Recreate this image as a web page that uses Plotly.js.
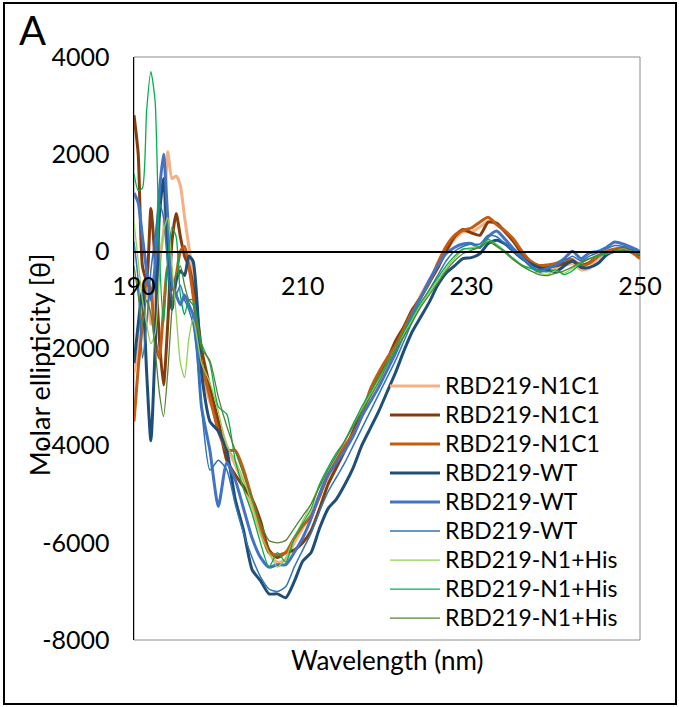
<!DOCTYPE html>
<html>
<head>
<meta charset="utf-8">
<script src="https://cdn.plot.ly/plotly-3.0.1.min.js"></script>
<style>
  html, body { margin: 0; padding: 0; background: #fff; }
  #wrap { position: relative; width: 679px; height: 707px; }
  #chart { position: absolute; left: 0; top: 0; width: 679px; height: 707px; }
  #frame { position: absolute; left: 3px; top: 2px; width: 670px; height: 699px; border: 2px solid #000; pointer-events: none; }
</style>
</head>
<body>
<div id="wrap"><div id="chart"></div><div id="frame"></div></div>
<script>
// Wavelengths (nm): 0.5 nm steps 190-197.5, then 1 nm steps 198-250
const wavelength = [190,190.5,191,191.5,192,192.5,193,193.5,194,194.5,195,195.5,196,196.5,197,197.5,
  198,199,200,201,202,203,204,205,206,207,208,209,210,211,212,213,214,215,216,217,218,219,220,
  221,222,223,224,225,226,227,228,229,230,231,232,233,234,235,236,237,238,239,240,241,242,243,244,245,246,247,248,249,250];

const seriesNames = ["RBD219-N1C1","RBD219-N1C1","RBD219-N1C1","RBD219-WT","RBD219-WT","RBD219-WT","RBD219-N1+His","RBD219-N1+His","RBD219-N1+His"];

const n1c1_a = [-2500,-2000,-1200,-800,-1500,-800,-200,400,2050,1500,1550,1350,700,100,-500,-1300,
  -2400,-3100,-3500,-4000,-4400,-4800,-5300,-5800,-6200,-6400,-6350,-6000,-5700,-5400,-5000,-4650,-4350,-4050,-3700,-3350,-2950,-2600,-2250,
  -1900,-1600,-1250,-900,-600,-300,0,250,400,400,500,620,560,400,250,0,-250,-380,-400,-350,-300,-250,-380,-350,-150,-30,40,40,-30,-100];

const n1c1_b = [2800,2000,-300,-600,880,-200,-1800,-2750,-1500,200,780,300,-100,-300,-700,-1300,
  -2000,-2800,-3500,-4300,-4600,-4850,-5100,-5550,-6150,-6300,-6200,-6150,-6000,-5750,-5300,-4800,-4450,-4100,-3700,-3300,-2900,-2600,-2250,
  -1850,-1550,-1200,-950,-650,-350,0,300,450,380,330,600,580,400,200,-50,-220,-320,-330,-300,-250,-200,-280,-230,-100,-20,30,80,0,-80];

const n1c1_c = [-3500,-2400,-1500,-600,-800,-1800,-2200,-1200,-300,-800,-500,0,100,-300,-900,-1600,
  -2300,-3000,-3700,-4100,-4100,-4500,-5100,-5700,-6200,-6250,-6200,-5900,-5650,-5450,-5050,-4600,-4300,-4000,-3750,-3400,-2850,-2500,-2200,
  -1950,-1600,-1250,-950,-650,-250,100,330,430,480,600,700,550,420,250,0,-200,-290,-280,-250,-180,-170,-300,-250,-100,0,50,50,-20,-150];

const wt_a = [-2300,-1500,-800,-2500,-3900,-2000,700,1500,0,-1200,-600,-400,-500,-100,-200,-1100,
  -2500,-3500,-3700,-4100,-5100,-5750,-6550,-6780,-7050,-7050,-7130,-6800,-6380,-6200,-5700,-5300,-5100,-4800,-4450,-4000,-3650,-3300,-2900,
  -2500,-2050,-1650,-1350,-1050,-700,-450,-300,-150,-130,-50,160,230,150,0,-150,-250,-330,-380,-430,-300,-200,-330,-330,-250,-80,0,20,0,-40];

const wt_b = [1200,1000,300,-400,-1000,-300,1200,2000,700,-600,-900,-1100,-900,-1100,-1300,-2000,
  -3200,-4100,-5250,-4350,-4700,-5300,-5900,-6300,-6500,-6450,-6450,-6200,-5900,-5500,-5000,-4600,-4350,-4100,-3800,-3400,-3100,-2800,-2450,
  -2100,-1700,-1300,-950,-600,-300,-50,80,150,160,80,300,420,250,50,-120,-300,-420,-350,-280,-150,0,-150,-30,0,80,190,150,80,0];

const wt_c = [200,-600,-2200,-1500,-400,300,1000,700,-300,-1000,-900,-700,-1000,-1200,-1500,-2200,
  -3200,-4500,-4300,-4500,-5200,-5800,-6300,-6700,-6950,-7000,-6900,-6500,-6150,-5800,-5350,-4950,-4650,-4350,-4000,-3650,-3300,-2950,-2600,
  -2250,-1850,-1450,-1100,-800,-500,-200,0,100,150,150,330,300,150,0,-150,-300,-380,-350,-300,-200,-100,-200,-100,-30,50,120,100,40,-20];

const his_a = [600,-200,-1000,-1500,-1900,-1700,-600,400,700,-300,-1300,-2300,-2600,-1800,-1400,-1800,
  -2300,-2700,-3300,-4000,-4300,-4700,-5200,-5800,-6200,-6500,-6300,-5900,-5550,-5200,-4800,-4500,-4200,-3900,-3550,-3250,-2950,-2650,-2300,
  -2000,-1700,-1400,-1100,-850,-600,-350,-150,30,80,100,230,150,0,-150,-300,-400,-450,-480,-400,-450,-350,-250,-150,-100,-50,0,50,0,-50];

const his_b = [1600,1250,1300,2900,3700,3100,0,-1500,-200,500,300,-900,-1300,-1000,-1000,-1400,
  -1900,-2300,-3200,-3350,-4300,-4900,-5400,-6000,-6500,-6200,-6400,-5900,-5600,-5300,-4800,-4450,-4150,-3900,-3550,-3200,-2900,-2600,-2300,
  -2000,-1650,-1350,-1050,-800,-550,-300,-100,50,50,100,250,120,0,-150,-280,-350,-400,-420,-380,-480,-400,-250,-150,-100,-50,0,0,-20,-60];

const his_c = [-300,-900,-1500,-1000,-1300,-2000,-2900,-3400,-2500,-1200,-500,-300,-700,-1000,-1100,-1500,
  -2000,-2250,-3000,-3600,-4100,-4600,-5100,-5600,-5950,-6000,-5950,-5700,-5450,-5200,-4850,-4500,-4200,-3900,-3600,-3300,-3000,-2700,-2350,
  -2050,-1750,-1450,-1150,-900,-650,-400,-200,-50,20,80,200,100,-30,-180,-300,-400,-480,-500,-450,-400,-320,-220,-150,-80,-30,0,30,0,-50];

const allSeries = [n1c1_a, n1c1_b, n1c1_c, wt_a, wt_b, wt_c, his_a, his_b, his_c];
const colors = ["#F4B183","#843C0C","#C55A11","#1F4E79","#4472C4","#2E75B6","#92D050","#00B050","#548235"];
const widths = [3,3,3,3,3,1.5,1.3,1.3,1.3];

const yTicks = [4000,2000,0,-2000,-4000,-6000,-8000];
const xTicks = [190,210,230,250];

const FONT = "Lato, 'Open Sans', sans-serif";

const traces = allSeries.map((vals, i) => ({
  type: "scatter",
  mode: "lines",
  x: wavelength,
  y: vals,
  name: '<span style="font-size:23px">' + seriesNames[i] + '</span>',
  line: { color: colors[i], width: widths[i], shape: "spline", smoothing: 0.6 }
}));

const layout = {
  width: 679, height: 707,
  margin: { l: 134, r: 39, t: 57, b: 67, pad: 0 },
  paper_bgcolor: "#fff", plot_bgcolor: "#fff",
  showlegend: true,
  legend: {
    x: 0.496, y: 0.469, xanchor: "left", yanchor: "top",
    bgcolor: "rgba(0,0,0,0)", borderwidth: 0,
    font: { family: FONT, size: 20, color: "#000" },
    itemwidth: 50, tracegroupgap: 0
  },
  xaxis: {
    range: [190, 250], tickvals: xTicks, ticktext: xTicks.map(String),
    anchor: "free", position: 2/3,
    showline: true, linecolor: "#000", linewidth: 1.5,
    showgrid: false, zeroline: false, ticks: "",
    ticklabelstandoff: 12,
    tickfont: { family: FONT, size: 25, color: "#000" }
  },
  yaxis: {
    range: [-8000, 4000], tickvals: yTicks, ticktext: yTicks.map(String),
    showline: true, linecolor: "#000", linewidth: 1.5,
    showgrid: false, zeroline: false, ticks: "",
    ticklabelstandoff: 18,
    tickfont: { family: FONT, size: 25, color: "#000" }
  },
  shapes: [
    { type: "rect", xref: "paper", yref: "paper", x0: 0, x1: 1, y0: 0, y1: 1,
      line: { color: "#8c8c8c", width: 1 }, fillcolor: "rgba(0,0,0,0)", layer: "below" }
  ],
  annotations: [
    { text: "A", xref: "paper", yref: "paper", x: -0.2, y: 1.046, xanchor: "center", yanchor: "middle",
      showarrow: false, font: { family: FONT, size: 40, color: "#000" } },
    { text: "Molar ellipticity [θ]", xref: "paper", yref: "paper", x: -0.186, y: 0.4726,
      xanchor: "center", yanchor: "middle", textangle: -90,
      showarrow: false, font: { family: FONT, size: 27, color: "#000" } },
    { text: "Wavelength (nm)", xref: "paper", yref: "paper", x: 0.5, y: -0.034,
      xanchor: "center", yanchor: "middle",
      showarrow: false, font: { family: FONT, size: 26, color: "#000" } }
  ]
};

Plotly.newPlot("chart", traces, layout, { displayModeBar: false, staticPlot: true });
</script>
</body>
</html>
